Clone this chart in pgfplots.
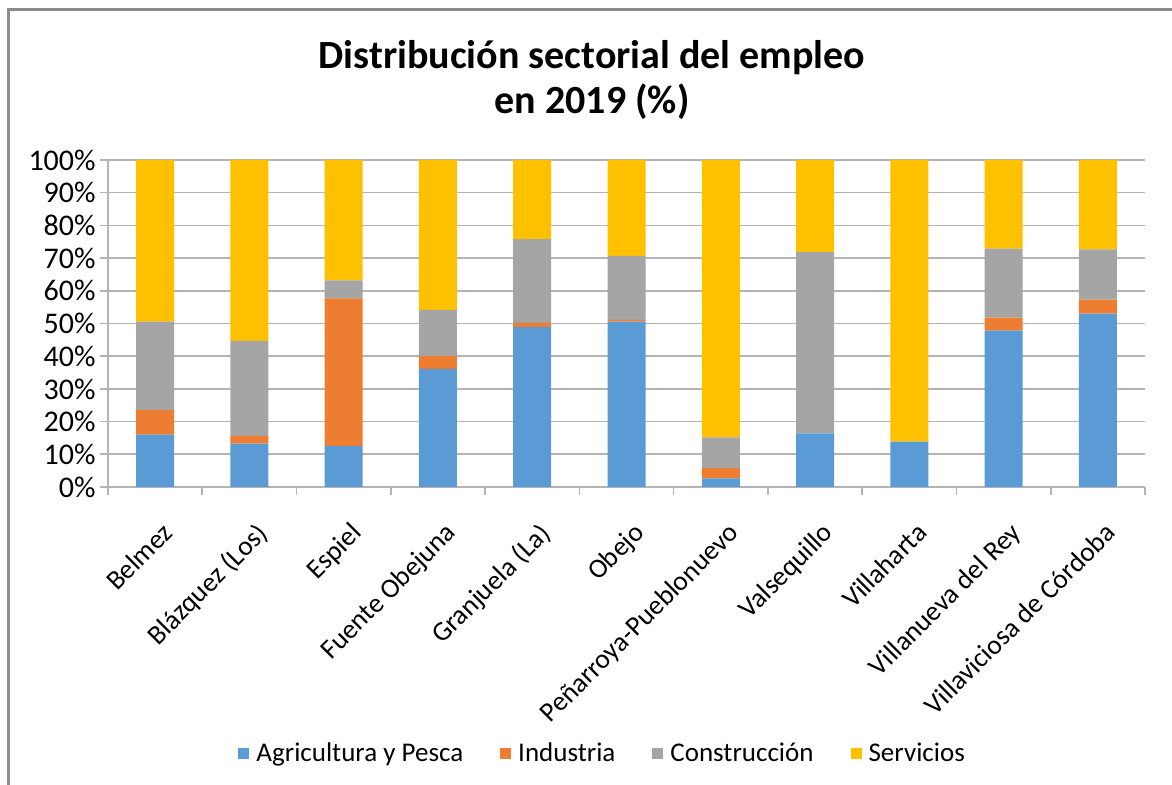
\documentclass[border=0pt]{standalone}
\usepackage{pgfplots}
\pgfplotsset{compat=1.18}
\usepackage{pgfplotstable}
\usepackage{fontspec}
\setmainfont{Carlito}
\definecolor{cAgr}{HTML}{5B9BD5}
\definecolor{cInd}{HTML}{ED7D31}
\definecolor{cCon}{HTML}{A5A5A5}
\definecolor{cSer}{HTML}{FFC000}
\definecolor{cGrid}{HTML}{B4B4B4}
\definecolor{cFrame}{HTML}{8C8C8C}

\pgfplotstableread{
x agr ind con ser
0 16.0 7.5 27.1 49.4
1 13.3 2.3 29.1 55.3
2 12.5 45.2 5.5 36.8
3 36.1 3.9 14.2 45.8
4 48.9 1.3 25.6 24.2
5 50.6 0.5 19.6 29.3
6 2.6 3.2 9.4 84.8
7 16.4 0.0 55.4 28.2
8 13.9 0.0 0.0 86.1
9 47.8 4.0 21.1 27.1
10 53.0 4.3 15.4 27.3
}\datatable

\begin{document}
\begin{tikzpicture}
\path[use as bounding box] (0,0) rectangle (586pt,392.5pt);
\draw[color=cFrame, line width=1.2pt] (4.25pt,0) -- (4.25pt,387.75pt) -- (586pt,387.75pt);
\node[font=\bfseries\fontsize{20}{22.5}\selectfont, align=center] at (296pt,352.25pt) {Distribución sectorial del empleo\\en 2019 (\%)};
\begin{axis}[
  at={(54pt,149pt)}, anchor=south west,
  scale only axis, width=518.5pt, height=163.5pt,
  ybar stacked, bar width=19pt,
  xmin=-0.5, xmax=10.5, ymin=0, ymax=100,
  axis lines=left, axis line style={-, cGrid, line width=0.8pt},
  ymajorgrids, grid style={cGrid, line width=0.8pt},
  ytick={0,10,...,100},
  yticklabel={\pgfmathprintnumber{\tick}\%},
  /pgf/number format/assume math mode=true,
  tick label style={color=black},
  yticklabel style={font=\fontsize{15}{17}\selectfont, inner sep=2pt},
  ytick style={cGrid, line width=0.8pt},
  tick align=outside, major tick length=4pt,
  xtick={0,...,10},
  xticklabels={Belmez,Blázquez (Los),Espiel,Fuente Obejuna,Granjuela (La),Obejo,Peñarroya-Pueblonuevo,Valsequillo,Villaharta,Villanueva del Rey,Villaviciosa de Córdoba},
  xtick style={draw=none},
  xticklabel style={font=\fontsize{13.7}{15}\selectfont, rotate=45, anchor=north east, inner sep=1pt, yshift=-10pt, xshift=-6pt},
  extra x ticks={-0.5,0.5,...,10.5},
  extra x tick labels={},
  extra x tick style={xtick style={cGrid, line width=0.8pt, draw=cGrid}, grid=none},
  legend style={at={(0.478,-0.815)}, anchor=center, draw=none, legend columns=4,
    font=\fontsize{13.5}{15}\selectfont,
    /tikz/every even column/.append style={column sep=16.5pt}},
  legend image code/.code={\fill[#1] (0pt,-2.75pt) rectangle (5.5pt,2.75pt); \path (0pt,0pt) -- (7pt,0pt);},
]
\addplot[fill=cAgr, draw=none] table[x=x,y=agr]{\datatable};
\addplot[fill=cInd, draw=none] table[x=x,y=ind]{\datatable};
\addplot[fill=cCon, draw=none] table[x=x,y=con]{\datatable};
\addplot[fill=cSer, draw=none] table[x=x,y=ser]{\datatable};
\legend{Agricultura y Pesca,Industria,Construcción,Servicios}
\end{axis}
\end{tikzpicture}
\end{document}
